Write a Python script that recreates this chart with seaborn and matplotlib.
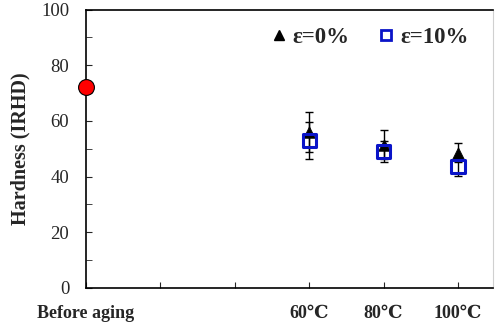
import matplotlib
matplotlib.use("Agg")
import matplotlib.pyplot as plt
from matplotlib.lines import Line2D
import pandas as pd
import seaborn as sns

# data
BEFORE_X = [0]
BEFORE_HARDNESS = [72]
POSITIONS = [3, 4, 5]
TICK_LABELS = ["Before aging", "", "", "60℃", "80℃", "100℃"]
STRAIN_0 = [56.0, 51.5, 48.5]
STRAIN_0_ERR = [7.3, 5.2, 3.4]
STRAIN_10 = [53.0, 49.0, 43.5]
STRAIN_10_ERR = [6.7, 3.8, 3.3]

SERIF = ["Liberation Serif", "DejaVu Serif"]


def main():
    sns.set_style("ticks")
    plt.rcParams["font.family"] = SERIF
    plt.rcParams["mathtext.fontset"] = "stix"

    df = pd.DataFrame({
        "temp": POSITIONS * 2,
        "hardness": STRAIN_0 + STRAIN_10,
        "err": STRAIN_0_ERR + STRAIN_10_ERR,
        "strain": ["ε=0%"] * 3 + ["ε=10%"] * 3,
    })

    fig = plt.figure(figsize=(4.95, 3.31), dpi=100)
    ax = fig.add_axes([86 / 495, 43 / 331, 407 / 495, 278.5 / 331])

    for strain, sub in df.groupby("strain"):
        ax.errorbar(sub["temp"], sub["hardness"], yerr=sub["err"], fmt="none",
                    ecolor="black", elinewidth=1, capsize=3, capthick=1, zorder=2)

    sns.scatterplot(x=POSITIONS, y=STRAIN_0, marker="^", color="black", s=70,
                    edgecolor="black", linewidth=0.5, ax=ax, zorder=3)
    sns.scatterplot(x=POSITIONS, y=STRAIN_10, marker="s", facecolor="none",
                    edgecolor="#0a14c8", linewidth=2.2, s=90, ax=ax, zorder=4)
    sns.scatterplot(x=BEFORE_X, y=BEFORE_HARDNESS, marker="o", color="#ff0000",
                    edgecolor="black", linewidth=0.8, s=130, ax=ax, zorder=5,
                    clip_on=False)

    ax.set_xlim(0, 5.47)
    ax.set_ylim(0, 100)
    ax.set_xticks(range(6))
    ax.set_xticklabels(TICK_LABELS, fontweight="bold", fontsize=13)
    ax.set_yticks(range(0, 101, 20))
    ax.set_yticks(range(10, 100, 20), minor=True)
    ax.tick_params(axis="y", which="both", direction="in", length=4,
                   labelsize=13.5, pad=12)
    ax.tick_params(axis="x", direction="in", length=4, pad=12)
    ax.set_ylabel("Hardness (IRHD)", fontweight="bold", fontsize=14.5, labelpad=8)

    for side in ["left", "bottom", "top"]:
        ax.spines[side].set_linewidth(1.2)
        ax.spines[side].set_color("black")
    ax.spines["right"].set_color("#d0d0d0")
    ax.spines["right"].set_linewidth(0.8)

    handles = [
        Line2D([], [], marker="^", color="black", linestyle="none", markersize=6.5),
        Line2D([], [], marker="s", markerfacecolor="none", markeredgecolor="#0a14c8",
               markeredgewidth=2, linestyle="none", markersize=7.5),
    ]
    ax.legend(handles, ["ε=0%", "ε=10%"], ncol=2, frameon=False,
              loc="center right", bbox_to_anchor=(0.94, 0.898),
              borderaxespad=0, borderpad=0,
              handletextpad=0.2, columnspacing=1.2, handlelength=0.8,
              prop={"family": SERIF, "weight": "bold", "size": 16.5})

    fig.savefig("out.png", dpi=100)
    plt.close(fig)


if __name__ == "__main__":
    main()
